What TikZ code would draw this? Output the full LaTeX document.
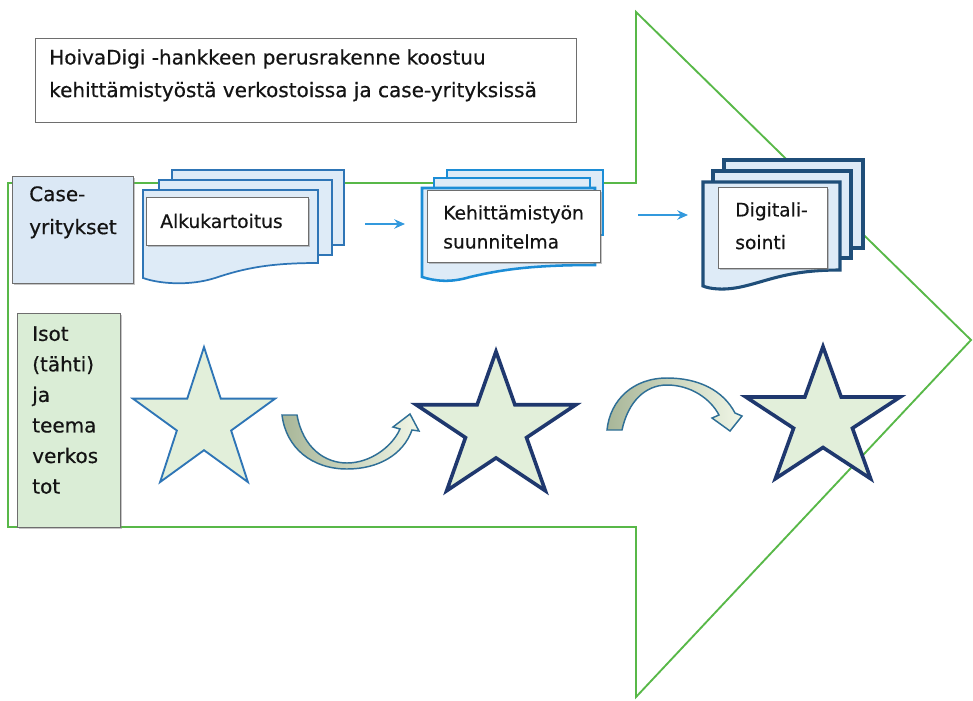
\documentclass[tikz,border=0pt]{standalone}
\usepackage{fontspec}
\setmainfont{DejaVu Sans}
\newfontfamily\lblfont{DejaVu Sans}[FakeBold=0.5]
\usetikzlibrary{shadows,arrows.meta}
\definecolor{arrgreen}{RGB}{88,184,72}
\definecolor{boxgray}{RGB}{110,110,110}
\definecolor{casefill}{RGB}{219,232,245}
\definecolor{isotfill}{RGB}{218,237,214}
\definecolor{docfill}{RGB}{222,235,247}
\definecolor{docblueA}{RGB}{46,117,182}
\definecolor{docblueB}{RGB}{28,141,214}
\definecolor{docblueC}{RGB}{31,78,121}
\definecolor{starfill}{RGB}{226,239,218}
\definecolor{starnavy}{RGB}{31,56,110}
\definecolor{starblue}{RGB}{46,117,182}
\definecolor{flowblue}{RGB}{51,153,221}
\definecolor{curvedark}{RGB}{168,182,152}
\definecolor{curvelight}{RGB}{240,246,230}
\definecolor{curveline}{RGB}{47,111,150}
\definecolor{txt}{RGB}{20,20,20}
\newcommand{\StarPath}{(90:1) -- (126:0.382) -- (162:1) -- (198:0.382) -- (234:1) -- (270:0.382) -- (306:1) -- (342:0.382) -- (18:1) -- (54:0.382) -- cycle}
\begin{document}
\begin{tikzpicture}[x=0.75pt,y=-0.75pt,
  bigarrow/.style={draw=arrgreen, line width=1.4pt, line join=miter},
  shad/.style={drop shadow={shadow xshift=1.1pt,shadow yshift=-1.1pt,fill=black!50,opacity=0.45}},
  titlebox/.style={draw=boxgray, line width=1.1pt, fill=white, anchor=north west, inner sep=0pt, minimum width=405.75pt, minimum height=63pt},
  sidebox/.style={draw=boxgray, line width=1.1pt, anchor=north west, inner sep=0pt, shad},
  whitebox/.style={draw=boxgray, line width=0.9pt, fill=white, anchor=north west, inner sep=0pt, shad},
  lbl/.style={anchor=north west, inner sep=0pt, align=left, text=txt},
  bigtxt/.style={lbl, font=\lblfont\fontsize{15}{24}\selectfont},
  doctxt/.style={lbl, font=\lblfont\fontsize{14}{22}\selectfont},
  pageA/.style={draw=docblueA, line width=1.3pt, fill=docfill, line join=miter},
  pageB/.style={draw=docblueB, line width=1.9pt, fill=docfill, line join=miter},
  pageC/.style={draw=docblueC, line width=2.3pt, fill=docfill, line join=miter},
  flow/.style={draw=flowblue, line width=1.6pt, -{Stealth[length=8pt,width=7pt]}},
  thinstar/.style={draw=starblue, line width=1.4pt, fill=starfill, line join=miter},
  thickstar/.style={draw=starnavy, line width=2.7pt, fill=starfill, line join=miter},
  curvearrow/.style={draw=curveline, line width=1.1pt, left color=curvedark, right color=curvelight, line join=miter}
]
\useasboundingbox (0,0) rectangle (973,700);

% big green arrow
\draw[bigarrow] (8,183) -- (636,183) -- (636,12) -- (971,340) -- (636,697) -- (636,527) -- (8,527) -- cycle;

% title
\node[titlebox] (title) at (35,38) {};
\node[bigtxt, font=\lblfont\fontsize{15}{24.5}\selectfont] (titletxt) at (49,49) {HoivaDigi -hankkeen perusrakenne koostuu\\kehittämistyöstä verkostoissa ja case-yrityksissä};

% side boxes
\node[sidebox, fill=casefill, minimum width=90.75pt, minimum height=80.25pt] (case) at (12,176) {};
\node[bigtxt, font=\lblfont\fontsize{15}{24.75}\selectfont] (casetxt) at (29,186) {Case-\\yritykset};
\node[sidebox, fill=isotfill, minimum width=77.25pt, minimum height=160.5pt] (isot) at (17,313) {};
\node[bigtxt, font=\lblfont\fontsize{15}{22.9}\selectfont] (isottxt) at (32,326) {Isot\\(tähti)\\ja\\teema\\verkos\\tot};

% stack 1
\draw[pageA] (172,170) rectangle (344,245);
\draw[pageA] (159,180) rectangle (332,255);
\draw[pageA] (143,190) -- (318,190) -- (318,263) .. controls (270,263) and (245,268) .. (215,278) .. controls (190,286) and (160,284) .. (143,278) -- cycle;
\node[whitebox, minimum width=121.5pt, minimum height=36pt] (alku) at (146,197) {};
\node[doctxt, anchor=west] (alkutxt) at (160,221) {Alkukartoitus};

% stack 2
\draw[pageB] (447,170) rectangle (603,235);
\draw[pageB] (434,178) rectangle (590,245);
\draw[pageB] (422,188) -- (595,188) -- (595,265) .. controls (530,265) and (500,270) .. (470,277) .. controls (450,283) and (435,281) .. (422,277) -- cycle;
\node[whitebox, minimum width=129.75pt, minimum height=54pt] (kehi) at (427,190) {};
\node[doctxt, font=\lblfont\fontsize{14}{21.75}\selectfont] (kehitxt) at (443,205) {Kehittämistyön\\suunnitelma};

% stack 3
\draw[pageC] (724,160) rectangle (863,248);
\draw[pageC] (713,171) rectangle (851,258);
\draw[pageC] (703,182) -- (840,182) -- (840,270) .. controls (790,270) and (770,280) .. (745,286) .. controls (725,291) and (710,289) .. (703,286) -- cycle;
\node[whitebox, minimum width=81.75pt, minimum height=60.75pt] (digi) at (718,187) {};
\node[doctxt, font=\lblfont\fontsize{14}{24.5}\selectfont] (digitxt) at (735,202) {Digitali-\\sointi};

% flow arrows
\coordinate (f1s) at (365,224);
\coordinate (f1e) at (405,224);
\coordinate (f2s) at (638,215);
\coordinate (f2e) at (688,215);
\draw[flow] (f1s) -- (f1e);
\draw[flow] (f2s) -- (f2e);

% stars
\begin{scope}[shift={(204,421.7)}, xscale=74.7, yscale=-74.6]
  \draw[thinstar] \StarPath;
\end{scope}
\begin{scope}[shift={(496,428.5)}, xscale=84, yscale=-77]
  \draw[thickstar] \StarPath;
\end{scope}
\begin{scope}[shift={(823,419.6)}, xscale=81, yscale=-73]
  \draw[thickstar] \StarPath;
\end{scope}

% curved arrows
\draw[curvearrow] (282,415) -- (297,415) .. controls (303,448) and (325,463) .. (347,463) .. controls (370,463) and (392,447) .. (400,429) -- (393,427) -- (410,414) -- (419,431) -- (412,430) .. controls (403,455) and (378,469) .. (347,469) .. controls (312,469) and (286,448) .. (282,415) -- cycle;
\draw[curvearrow] (607,430) -- (622,430) .. controls (628,402) and (645,385) .. (667,385) .. controls (690,385) and (710,398) .. (719,415) -- (712,418) -- (730,431) -- (742,416) -- (735,413) .. controls (723,390) and (698,378) .. (667,378) .. controls (633,378) and (610,400) .. (607,430) -- cycle;
\end{tikzpicture}
\end{document}
